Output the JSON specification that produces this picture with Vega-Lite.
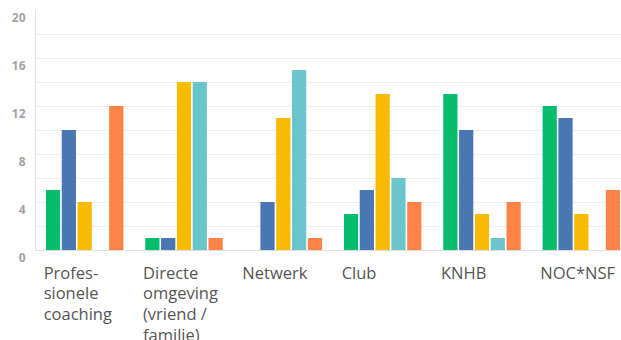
{
  "$schema": "https://vega.github.io/schema/vega-lite/v6.json",
  "width": 586,
  "height": 240,
  "autosize": {"type": "none"},
  "padding": {"left": 35, "top": 10, "right": 0, "bottom": 90},
  "background": "#ffffff",
  "config": {"view": {"stroke": null}},
  "data": {
    "values": [
      {"cat": "Profes-\nsionele\ncoaching", "serie": "1", "value": 5},
      {"cat": "Profes-\nsionele\ncoaching", "serie": "2", "value": 10},
      {"cat": "Profes-\nsionele\ncoaching", "serie": "3", "value": 4},
      {"cat": "Profes-\nsionele\ncoaching", "serie": "4", "value": 0},
      {"cat": "Profes-\nsionele\ncoaching", "serie": "5", "value": 12},
      {"cat": "Directe\nomgeving\n(vriend /\nfamilie)", "serie": "1", "value": 1},
      {"cat": "Directe\nomgeving\n(vriend /\nfamilie)", "serie": "2", "value": 1},
      {"cat": "Directe\nomgeving\n(vriend /\nfamilie)", "serie": "3", "value": 14},
      {"cat": "Directe\nomgeving\n(vriend /\nfamilie)", "serie": "4", "value": 14},
      {"cat": "Directe\nomgeving\n(vriend /\nfamilie)", "serie": "5", "value": 1},
      {"cat": "Netwerk", "serie": "1", "value": 0},
      {"cat": "Netwerk", "serie": "2", "value": 4},
      {"cat": "Netwerk", "serie": "3", "value": 11},
      {"cat": "Netwerk", "serie": "4", "value": 15},
      {"cat": "Netwerk", "serie": "5", "value": 1},
      {"cat": "Club", "serie": "1", "value": 3},
      {"cat": "Club", "serie": "2", "value": 5},
      {"cat": "Club", "serie": "3", "value": 13},
      {"cat": "Club", "serie": "4", "value": 6},
      {"cat": "Club", "serie": "5", "value": 4},
      {"cat": "KNHB", "serie": "1", "value": 13},
      {"cat": "KNHB", "serie": "2", "value": 10},
      {"cat": "KNHB", "serie": "3", "value": 3},
      {"cat": "KNHB", "serie": "4", "value": 1},
      {"cat": "KNHB", "serie": "5", "value": 4},
      {"cat": "NOC*NSF", "serie": "1", "value": 12},
      {"cat": "NOC*NSF", "serie": "2", "value": 11},
      {"cat": "NOC*NSF", "serie": "3", "value": 3},
      {"cat": "NOC*NSF", "serie": "4", "value": 0},
      {"cat": "NOC*NSF", "serie": "5", "value": 5}
    ]
  },
  "mark": {"type": "bar"},
  "encoding": {
    "x": {
      "field": "cat",
      "type": "nominal",
      "sort": null,
      "title": null,
      "scale": {"range": [0, 596], "paddingInner": 0.22, "paddingOuter": 0.11},
      "axis": {
        "labelAngle": 0,
        "labelAlign": "left",
        "labelBaseline": "top",
        "labelOffset": -41,
        "labelPadding": 15,
        "labelExpr": "split(datum.label, '\\n')",
        "labelFont": "Open Sans",
        "labelFontSize": 16.5,
        "labelLineHeight": 20.7,
        "labelColor": "#555555",
        "labelLimit": 0,
        "ticks": false,
        "domain": true,
        "domainColor": "#dddddd",
        "grid": false
      }
    },
    "xOffset": {
      "field": "serie",
      "type": "nominal",
      "sort": ["1", "2", "3", "4", "5"],
      "scale": {"paddingInner": 0.1}
    },
    "y": {
      "field": "value",
      "type": "quantitative",
      "title": null,
      "scale": {"domain": [0, 20], "nice": false},
      "axis": {
        "values": [0, 2, 4, 6, 8, 10, 12, 14, 16, 18, 20],
        "labelExpr": "datum.value % 4 == 0 ? datum.label : ''",
        "labelFont": "Open Sans",
        "labelFontSize": 12,
        "labelFontWeight": "bold",
        "labelColor": "#a3a3a3",
        "labelPadding": 10,
        "labelOffset": 7,
        "ticks": false,
        "domainColor": "#e2e2e2",
        "gridColor": {"condition": {"test": "datum.value == 20", "value": "transparent"}, "value": "#efefef"}
      }
    },
    "color": {
      "field": "serie",
      "type": "nominal",
      "legend": null,
      "scale": {
        "domain": ["1", "2", "3", "4", "5"],
        "range": ["#06bd6e", "#4a77b4", "#f7bb04", "#6ac6cc", "#fd8446"]
      }
    }
  }
}
